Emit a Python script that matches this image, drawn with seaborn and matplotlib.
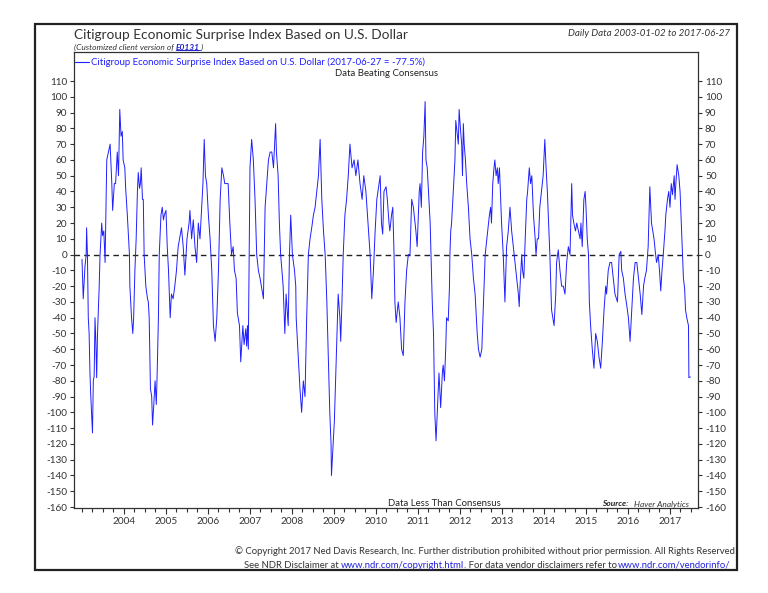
import matplotlib
matplotlib.use("Agg")
import matplotlib.pyplot as plt
import numpy as np
import pandas as pd
import seaborn as sns
from matplotlib.patches import Rectangle
from matplotlib.lines import Line2D
from matplotlib.ticker import MultipleLocator

# ---- data (decimal year, index value) ----
year_frac = [
    2003.00, 2003.03, 2003.07, 2003.10, 2003.11, 2003.13, 2003.15, 2003.17, 2003.19, 2003.21,
    2003.25, 2003.27, 2003.29, 2003.31, 2003.33, 2003.35, 2003.37, 2003.41, 2003.43, 2003.47,
    2003.49, 2003.52, 2003.55, 2003.59, 2003.63, 2003.67, 2003.71, 2003.73, 2003.77, 2003.80,
    2003.84, 2003.87, 2003.90, 2003.93, 2003.96, 2003.98, 2004.02, 2004.04, 2004.08, 2004.10,
    2004.13, 2004.14, 2004.18, 2004.21, 2004.23, 2004.26, 2004.29, 2004.32, 2004.34, 2004.37,
    2004.39, 2004.41, 2004.44, 2004.46, 2004.48, 2004.52, 2004.56, 2004.58, 2004.60, 2004.63,
    2004.66, 2004.68, 2004.71, 2004.74, 2004.77, 2004.79, 2004.82, 2004.84, 2004.88, 2004.91,
    2004.94, 2004.96, 2005.00, 2005.03, 2005.06, 2005.10, 2005.13, 2005.17, 2005.21, 2005.25,
    2005.29, 2005.37, 2005.41, 2005.45, 2005.50, 2005.55, 2005.57, 2005.61, 2005.65, 2005.69,
    2005.73, 2005.77, 2005.81, 2005.85, 2005.88, 2005.91, 2005.94, 2005.97, 2006.01, 2006.05,
    2006.09, 2006.13, 2006.17, 2006.21, 2006.25, 2006.29, 2006.33, 2006.37, 2006.40, 2006.44,
    2006.48, 2006.52, 2006.56, 2006.60, 2006.63, 2006.67, 2006.70, 2006.75, 2006.78, 2006.83,
    2006.86, 2006.90, 2006.92, 2006.94, 2006.96, 2006.98, 2007.00, 2007.04, 2007.08, 2007.12,
    2007.16, 2007.20, 2007.24, 2007.32, 2007.36, 2007.40, 2007.44, 2007.48, 2007.52, 2007.56,
    2007.61, 2007.63, 2007.67, 2007.70, 2007.73, 2007.79, 2007.83, 2007.86, 2007.91, 2007.94,
    2007.97, 2008.01, 2008.06, 2008.09, 2008.10, 2008.15, 2008.19, 2008.23, 2008.27, 2008.31,
    2008.35, 2008.39, 2008.43, 2008.47, 2008.51, 2008.55, 2008.59, 2008.63, 2008.67, 2008.71,
    2008.75, 2008.79, 2008.83, 2008.87, 2008.90, 2008.93, 2008.94, 2008.98, 2009.01, 2009.05,
    2009.08, 2009.10, 2009.14, 2009.16, 2009.19, 2009.22, 2009.26, 2009.30, 2009.34, 2009.38,
    2009.43, 2009.48, 2009.52, 2009.57, 2009.62, 2009.67, 2009.71, 2009.76, 2009.81, 2009.86,
    2009.90, 2009.94, 2009.98, 2010.02, 2010.10, 2010.13, 2010.16, 2010.19, 2010.24, 2010.27,
    2010.31, 2010.33, 2010.37, 2010.40, 2010.43, 2010.45, 2010.48, 2010.53, 2010.57, 2010.61,
    2010.65, 2010.69, 2010.73, 2010.77, 2010.81, 2010.85, 2010.89, 2010.91, 2010.95, 2010.98,
    2011.03, 2011.05, 2011.08, 2011.11, 2011.14, 2011.17, 2011.19, 2011.22, 2011.25, 2011.29,
    2011.31, 2011.34, 2011.37, 2011.40, 2011.43, 2011.46, 2011.50, 2011.54, 2011.58, 2011.60,
    2011.63, 2011.66, 2011.68, 2011.72, 2011.75, 2011.76, 2011.78, 2011.80, 2011.84, 2011.88,
    2011.90, 2011.94, 2011.96, 2011.98, 2012.01, 2012.04, 2012.06, 2012.08, 2012.10, 2012.13,
    2012.16, 2012.20, 2012.24, 2012.28, 2012.32, 2012.36, 2012.41, 2012.44, 2012.48, 2012.52,
    2012.56, 2012.60, 2012.64, 2012.68, 2012.70, 2012.73, 2012.75, 2012.78, 2012.81, 2012.83,
    2012.86, 2012.89, 2012.91, 2012.94, 2012.97, 2012.99, 2013.03, 2013.07, 2013.11, 2013.15,
    2013.19, 2013.23, 2013.27, 2013.31, 2013.35, 2013.39, 2013.41, 2013.43, 2013.47, 2013.49,
    2013.52, 2013.56, 2013.59, 2013.61, 2013.65, 2013.68, 2013.71, 2013.75, 2013.79, 2013.81,
    2013.84, 2013.87, 2013.90, 2013.94, 2013.98, 2014.02, 2014.05, 2014.08, 2014.11, 2014.14,
    2014.18, 2014.24, 2014.28, 2014.30, 2014.34, 2014.38, 2014.42, 2014.46, 2014.50, 2014.54,
    2014.58, 2014.62, 2014.66, 2014.68, 2014.71, 2014.75, 2014.78, 2014.82, 2014.86, 2014.88,
    2014.91, 2014.95, 2014.98, 2015.00, 2015.03, 2015.06, 2015.08, 2015.11, 2015.15, 2015.19,
    2015.23, 2015.27, 2015.31, 2015.35, 2015.39, 2015.43, 2015.47, 2015.49, 2015.53, 2015.57,
    2015.61, 2015.65, 2015.69, 2015.75, 2015.79, 2015.83, 2015.85, 2015.89, 2015.93, 2015.97,
    2016.01, 2016.05, 2016.09, 2016.13, 2016.17, 2016.21, 2016.25, 2016.29, 2016.33, 2016.37,
    2016.40, 2016.44, 2016.48, 2016.52, 2016.56, 2016.59, 2016.62, 2016.65, 2016.68, 2016.72,
    2016.75, 2016.78, 2016.81, 2016.84, 2016.88, 2016.90, 2016.94, 2016.97, 2017.00, 2017.03,
    2017.06, 2017.10, 2017.12, 2017.14, 2017.17, 2017.21, 2017.24, 2017.27, 2017.29, 2017.32,
    2017.35, 2017.37, 2017.40, 2017.44, 2017.45, 2017.486,
]
surprise = [
    -3, -28, -8, 0, 17, 0, -40, -50, -75, -90,
    -113, -80, -77, -40, -55, -78, -50, -20, 0, 20,
    12, 15, -5, 60, 65, 70, 45, 28, 45, 45,
    65, 50, 92, 75, 78, 60, 55, 42, 25, 15,
    0, -20, -40, -50, -40, -10, 10, 40, 52, 42,
    45, 55, 35, 35, 0, -20, -28, -30, -40, -85,
    -90, -108, -95, -80, -95, -75, -40, 0, 25, 30,
    22, 25, 28, 5, -10, -40, -25, -28, -20, -10,
    5, 17, 5, -13, 10, 20, 28, 10, 22, 5,
    -5, 20, 10, 30, 45, 73, 50, 45, 25, 10,
    -10, -45, -55, -40, -10, 35, 55, 50, 45, 45,
    45, 20, 0, 5, -10, -15, -37, -45, -68, -45,
    -57, -47, -58, -45, -60, 0, 55, 73, 60, 35,
    0, -10, -15, -28, 30, 45, 60, 65, 65, 55,
    83, 65, 50, 20, 0, -20, -50, -25, -45, 0,
    25, 0, -10, -20, -40, -65, -85, -100, -80, -90,
    -40, 0, 10, 17, 25, 30, 40, 50, 73, 35,
    15, 0, -30, -70, -100, -120, -140, -120, -105, -70,
    -45, -25, -40, -55, -30, 0, 25, 35, 50, 70,
    55, 60, 50, 60, 45, 35, 50, 40, 20, 0,
    -28, -10, 15, 35, 50, 20, 13, 40, 43, 35,
    20, 15, 25, 30, 0, -30, -43, -30, -40, -60,
    -64, -30, -10, 0, 0, 35, 30, 25, 15, 5,
    40, 45, 30, 65, 75, 97, 60, 55, 40, 20,
    0, -30, -50, -100, -118, -100, -75, -97, -75, -70,
    -80, -60, -40, -42, -20, 0, 15, 20, 40, 60,
    85, 75, 70, 92, 80, 70, 50, 83, 70, 60,
    45, 30, 10, 0, -15, -25, -50, -60, -65, -60,
    -30, 0, 10, 20, 25, 30, 20, 45, 55, 60,
    50, 55, 45, 55, 35, 20, 0, -30, 5, 15,
    30, 15, 5, -5, -15, -25, -33, -20, 0, -10,
    -15, 15, 35, 40, 55, 45, 50, 25, 10, 0,
    10, 10, 30, 40, 50, 73, 55, 40, 20, 0,
    -35, -45, -25, -5, 3, -10, -20, -20, -25, -5,
    5, 0, 45, 25, 20, 15, 20, 15, 10, 20,
    5, 35, 40, 30, 10, 0, -30, -45, -60, -72,
    -50, -55, -65, -72, -55, -35, -20, -25, -10, -5,
    -5, -15, -25, -30, 0, 2, -10, -15, -25, -32,
    -40, -55, -35, -15, -5, -5, -15, -25, -38, -20,
    -15, -10, 5, 43, 20, 15, 10, 2, -5, 0,
    -10, -23, -10, 0, 15, 25, 35, 40, 30, 45,
    38, 50, 35, 45, 57, 50, 40, 20, 5, -15,
    -22, -35, -40, -45, -78, -77.5,
]

y_ticks = list(range(-160, 111, 10))
x_tick_years = list(range(2004, 2018))
series_label = "Citigroup Economic Surprise Index Based on U.S. Dollar (2017-06-27 = -77.5%)"
title = "Citigroup Economic Surprise Index Based on U.S. Dollar"
date_range = "Daily Data 2003-01-02 to 2017-06-27"

df = pd.DataFrame({"year": year_frac, "value": surprise})

sns.set_theme(style="white")
plt.rcParams["font.family"] = ["Lato", "DejaVu Sans"]

W, H = 768, 593
fig = plt.figure(figsize=(W / 100, H / 100), dpi=100)
fig.patch.set_facecolor("white")


def fx(px):
    return px / W


def fy(py):
    return 1 - py / H


# outer frame
fig.patches.append(Rectangle((fx(35), fy(570)), fx(737) - fx(35), fy(24) - fy(570),
                             transform=fig.transFigure, fill=False, edgecolor="#222222",
                             linewidth=1.6, zorder=0))

ax_l, ax_r, ax_t, ax_b = 74, 698, 52, 508
ax = fig.add_axes([fx(ax_l), fy(ax_b), fx(ax_r) - fx(ax_l), fy(ax_t) - fy(ax_b)])
ax.set_facecolor("white")

BLUE = "#1f1fff"
sns.lineplot(data=df, x="year", y="value", ax=ax, color=BLUE, linewidth=0.7,
             estimator=None, sort=False, legend=False)
ax.axhline(0, color="#222222", linewidth=1.0, linestyle=(0, (4, 3)), zorder=1)

ax.set_xlim(2002.81, 2017.667)
ax.set_ylim(-160.6, 128.4)
ax.set_xlabel("")
ax.set_ylabel("")

ax.set_yticks(y_ticks)
ax.set_yticklabels([str(t) for t in y_ticks])
ax.set_xticks(x_tick_years)
ax.set_xticklabels([str(y) for y in x_tick_years])
ax.xaxis.set_minor_locator(MultipleLocator(0.25))

ax.tick_params(axis="y", which="major", direction="out", length=3, width=0.8,
               left=True, right=True, labelleft=True, labelright=True,
               labelsize=7.2, pad=2, colors="#333333")
ax.tick_params(axis="x", which="major", direction="out", length=4, width=0.8,
               bottom=True, labelsize=7.2, pad=2.5, colors="#333333")
ax.tick_params(axis="x", which="minor", direction="out", length=3, width=0.8, bottom=True,
               colors="#333333")
for s in ax.spines.values():
    s.set_visible(True)
    s.set_color("#333333")
    s.set_linewidth(0.9)

ax.grid(False)

# ---- texts ----
fig.text(fx(74), fy(35), title, fontsize=9.8, color="#333333", va="center", ha="left")
fig.text(fx(730), fy(34), date_range, fontsize=7.0, color="#333333", style="italic",
         va="center", ha="right")

renderer = fig.canvas.get_renderer()


def seq_text(x_px, y_px, segs, ha="left"):
    arts = []
    for s, kw in segs:
        arts.append(fig.text(0, fy(y_px), s, va="center", ha="left", **kw))
    widths = [a.get_window_extent(renderer).width for a in arts]
    total = sum(widths)
    x0 = x_px if ha == "left" else x_px - total
    for a, w in zip(arts, widths):
        a.set_x(fx(x0))
        x0 += w
    return arts


sub = seq_text(74, 47, [
    ("(Customized client version of ", dict(fontsize=6.0, style="italic", color="#333333")),
    ("E0131", dict(fontsize=6.0, style="italic", weight="bold", color="#2020cc")),
    (")", dict(fontsize=6.0, style="italic", color="#333333")),
])
bb = sub[1].get_window_extent(renderer)
fig.lines.append(Line2D([bb.x0 / W, bb.x1 / W], [bb.y0 / H + 0.0005, bb.y0 / H + 0.0005],
                        transform=fig.transFigure, color="#2020cc", linewidth=0.7))

# legend
fig.lines.append(Line2D([fx(75), fx(89)], [fy(62), fy(62)], transform=fig.transFigure,
                        color=BLUE, linewidth=0.8))
fig.text(fx(91), fy(62), series_label, fontsize=6.9, color=BLUE, va="center", ha="left")

fig.text(fx(387), fy(74), "Data Beating Consensus", fontsize=6.9, color="#222222",
         va="center", ha="center")
fig.text(fx(444), fy(503), "Data Less Than Consensus", fontsize=6.9, color="#222222",
         va="center", ha="center")

seq_text(689, 504, [
    ("Source:", dict(fontsize=6.0, style="italic", weight="bold", color="#222222")),
    ("   Haver Analytics", dict(fontsize=6.0, style="italic", color="#333333")),
], ha="right")

fig.text(fx(735), fy(551),
         "\u00a9 Copyright 2017 Ned Davis Research, Inc. Further distribution prohibited without prior permission. All Rights Reserved",
         fontsize=6.8, color="#333333", va="center", ha="right")
seq_text(730, 565, [
    ("See NDR Disclaimer at ", dict(fontsize=6.8, color="#333333")),
    ("www.ndr.com/copyright.html", dict(fontsize=6.8, color="#2222dd")),
    (". For data vendor disclaimers refer to", dict(fontsize=6.8, color="#333333")),
    ("www.ndr.com/vendorinfo/", dict(fontsize=6.8, color="#2222dd")),
], ha="right")

fig.savefig("out.png", dpi=100, facecolor="white")
